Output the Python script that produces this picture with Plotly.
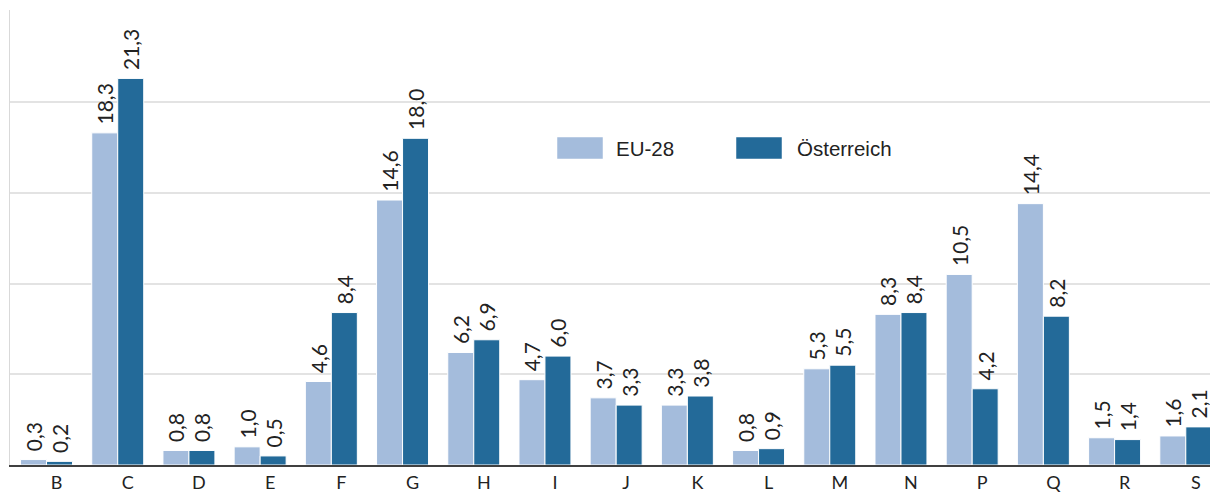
import plotly.graph_objects as go

categories = ["B", "C", "D", "E", "F", "G", "H", "I", "J", "K", "L", "M", "N", "P", "Q", "R", "S"]
eu28 = [0.3, 18.3, 0.8, 1.0, 4.6, 14.6, 6.2, 4.7, 3.7, 3.3, 0.8, 5.3, 8.3, 10.5, 14.4, 1.5, 1.6]
austria = [0.2, 21.3, 0.8, 0.5, 8.4, 18.0, 6.9, 6.0, 3.3, 3.8, 0.9, 5.5, 8.4, 4.2, 8.2, 1.4, 2.1]
series_names = ["EU-28", "Österreich"]
colors = ["#a4bcdc", "#236a99"]

W, H = 1210, 495
ml, mr, mt, mb = 10, 0, 10, 30
pw, ph = W - ml - mr, H - mt - mb

fig = go.Figure()
for name, vals, col in zip(series_names, [eu28, austria], colors):
    fig.add_trace(go.Bar(
        x=categories, y=vals, name=name,
        marker=dict(color=col, line=dict(color="white", width=1)),
        texttemplate="\u00a0%{y:.1f}", textposition="outside", textangle=-90,
        constraintext="none", cliponaxis=False,
        textfont=dict(family="Lato", size=21, color="#222222"),
        showlegend=False,
    ))

# legend drawn as swatches + labels (coordinates in page pixels)
def px_x(p):
    return (p - ml) / pw

def px_y(p):
    return (H - mb - p) / ph

shapes = []
annotations = []
legend_items = [(557, 603, 614), (736, 782, 795)]
for (x0, x1, tx), name, col in zip(legend_items, series_names, colors):
    shapes.append(dict(type="rect", xref="paper", yref="paper",
                       x0=px_x(x0), x1=px_x(x1), y0=px_y(159), y1=px_y(137),
                       fillcolor=col, line=dict(color="white", width=0.5)))
    annotations.append(dict(xref="paper", yref="paper", x=px_x(tx), y=px_y(148),
                            text=name, showarrow=False, xanchor="left", yanchor="middle",
                            font=dict(family="Liberation Sans", size=20.5, color="#222222")))

fig.update_layout(
    width=W, height=H,
    margin=dict(l=ml, r=mr, t=mt, b=mb, pad=0),
    paper_bgcolor="white", plot_bgcolor="white",
    barmode="group", bargap=0.27, bargroupgap=0.0,
    separators=", ",
    shapes=shapes, annotations=annotations,
    xaxis=dict(range=[-0.513, 16.34], showline=True, linecolor="#404040", linewidth=2,
               ticks="", showgrid=False, ticklabelshift=10,
               tickfont=dict(family="Lato", size=18, color="#222222")),
    yaxis=dict(range=[0, 25.07], tickvals=[5, 10, 15, 20], showticklabels=False,
               showgrid=True, gridcolor="#e3e3e3", gridwidth=2, zeroline=False,
               showline=True, linecolor="#d9d9d9", linewidth=1),
)

fig.write_html(
    "out.html",
    config={"displayModeBar": False},
    post_script=(
        "document.documentElement.style.margin='0';"
        "document.documentElement.style.overflow='hidden';"
        "document.body.style.margin='0';"
        "document.body.style.overflow='hidden';"
    ),
)
